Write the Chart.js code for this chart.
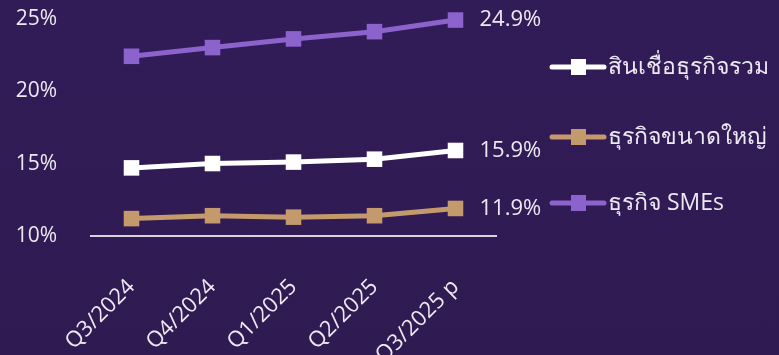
<!DOCTYPE html>
<html lang="th">
<head>
<meta charset="utf-8">
<script src="https://cdn.jsdelivr.net/npm/chart.js@4"></script>
<style>
  html, body { margin: 0; padding: 0; overflow: hidden; }
  body { width: 779px; height: 355px; background: linear-gradient(180deg, #321c58 0%, #2f1a51 100%); }
  #wrap { position: relative; width: 779px; height: 355px; overflow: hidden; }
  #inner { position: absolute; left: 0; top: -20px; width: 779px; height: 375px; }
</style>
</head>
<body>
<div id="wrap"><div id="inner"><canvas id="loanChart"></canvas></div></div>
<script>
const quarters = ['Q3/2024', 'Q4/2024', 'Q1/2025', 'Q2/2025', 'Q3/2025 p'];
const totalLoans = [14.7, 15.0, 15.1, 15.3, 15.9];
const largeCorp = [11.2, 11.4, 11.3, 11.4, 11.9];
const smeLoans = [22.4, 23.0, 23.6, 24.1, 24.9];
const yTicks = [10, 15, 20, 25];

const fontFamily = "'Segoe UI', 'Open Sans', 'Noto Sans', sans-serif";
const textColor = '#ece9f2';

// value label next to the last point of each line
const lastValueLabels = {
    id: 'lastValueLabels',
    afterDatasetsDraw(chart) {
        const ctx = chart.ctx;
        ctx.save();
        ctx.font = '22px ' + fontFamily;
        ctx.fillStyle = textColor;
        ctx.textAlign = 'left';
        ctx.textBaseline = 'middle';
        chart.data.datasets.forEach((ds, i) => {
            const meta = chart.getDatasetMeta(i);
            const pt = meta.data[meta.data.length - 1];
            const v = ds.data[ds.data.length - 1];
            ctx.fillText(v.toFixed(1) + '%', pt.x + 24, pt.y);
        });
        ctx.restore();
    }
};

// legend on the right: line segment with square marker, then the name
const sideLegend = {
    id: 'sideLegend',
    afterDraw(chart) {
        const ctx = chart.ctx;
        const rows = [87, 157, 223];
        ctx.save();
        chart.data.datasets.forEach((ds, i) => {
            const y = rows[i];
            ctx.strokeStyle = ds.borderColor;
            ctx.lineWidth = 5;
            ctx.lineCap = 'round';
            ctx.beginPath();
            ctx.moveTo(552, y);
            ctx.lineTo(604, y);
            ctx.stroke();
            ctx.fillStyle = ds.borderColor;
            ctx.fillRect(571, y - 8, 15, 16);
            ctx.font = '23px ' + fontFamily;
            ctx.fillStyle = textColor;
            ctx.textAlign = 'left';
            ctx.textBaseline = 'middle';
            ctx.fillText(ds.label, 608, y);
        });
        ctx.restore();
    }
};

const lineStyle = (color) => ({
    borderColor: color,
    backgroundColor: color,
    borderWidth: 5,
    pointStyle: 'rect',
    pointRadius: 11,
    pointHoverRadius: 11,
    pointBorderWidth: 0,
    tension: 0,
    clip: false
});

new Chart(document.getElementById('loanChart').getContext('2d'), {
    type: 'line',
    data: {
        labels: quarters,
        datasets: [
            { label: 'สินเชื่อธุรกิจรวม', data: totalLoans, ...lineStyle('#ffffff') },
            { label: 'ธุรกิจขนาดใหญ่', data: largeCorp, ...lineStyle('#c49a6c') },
            { label: 'ธุรกิจ SMEs', data: smeLoans, ...lineStyle('#8c62cc') }
        ]
    },
    options: {
        responsive: true,
        maintainAspectRatio: false,
        animation: false,
        layout: { padding: { left: 0, right: 283, top: 17, bottom: 0 } },
        plugins: {
            legend: { display: false },
            tooltip: { enabled: false }
        },
        scales: {
            y: {
                min: 10,
                max: 25,
                afterBuildTicks: (scale) => { scale.ticks = yTicks.map(v => ({ value: v })); },
                afterFit: (scale) => { scale.width = 91; },
                grid: { display: false },
                border: { display: false },
                ticks: {
                    padding: 26,
                    color: textColor,
                    font: { family: fontFamily, size: 21 },
                    callback: (v) => v + '%'
                }
            },
            x: {
                offset: true,
                afterFit: (scale) => { scale.height = 119; },
                grid: { display: false },
                border: { display: true, color: '#d6d3dc', width: 2 },
                ticks: {
                    padding: 30,
                    minRotation: 45,
                    maxRotation: 45,
                    color: textColor,
                    font: { family: fontFamily, size: 22 }
                }
            }
        }
    },
    plugins: [lastValueLabels, sideLegend]
});
</script>
</body>
</html>
